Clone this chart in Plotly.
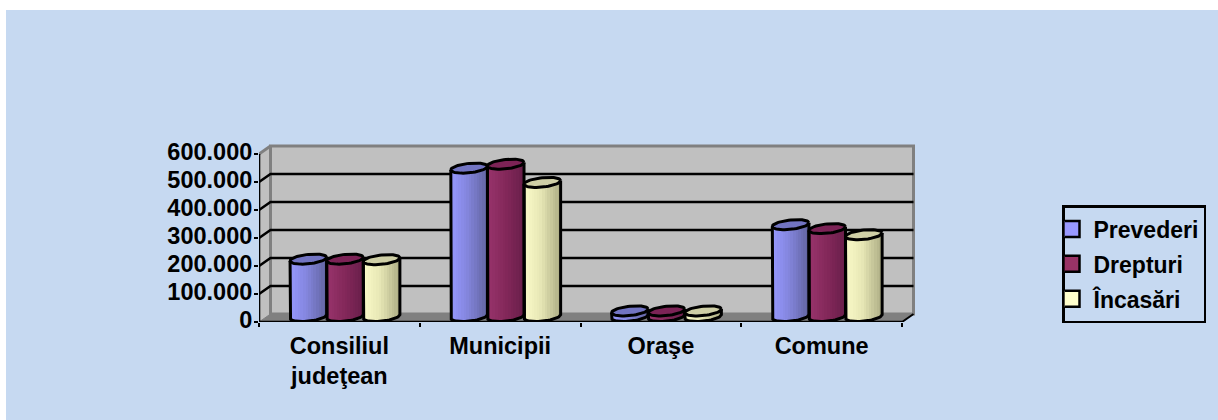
import math
import plotly.graph_objects as go

categories = ["Consiliul<br>judeţean", "Municipii", "Oraşe", "Comune"]
series_names = ["Prevederi", "Drepturi", "Încasări"]
prevederi = [205000, 530000, 20000, 328000]
drepturi = [205000, 544000, 20000, 314000]
incasari = [203000, 479000, 20000, 292000]
y_ticks = [0, 100000, 200000, 300000, 400000, 500000, 600000]
y_labels = ["0", "100.000", "200.000", "300.000", "400.000", "500.000", "600.000"]

W, H = 1218, 420
X0, XF = 259, 902            # front axis start / end (px)
Y0, YW = 322, 146            # zero line, wall top (px)
PAD = 3                      # room round the wall so its border is not clipped (px)
CAT = (XF - X0) / 4
PXX = 1 / CAT                # data units per px
PXY = 100000 / 28
DEPTH_X, DEPTH_Y = 11.5 * PXX, 8 * PXY

CYL_A, CYL_B, CYL_K = 18.3, 4.7, 1.8  # ellipse radii and tilt, px
OFF_X, OFF_Y = 5.6 * PXX, 5.5 * PXY

left_ramps = {
    "Prevederi": [(0, (150, 152, 255)), (0.45, (132, 134, 222)), (1, (98, 100, 160))],
    "Drepturi": [(0, (152, 52, 108)), (0.5, (132, 40, 90)), (1, (104, 30, 74))],
    "Încasări": [(0, (250, 250, 200)), (0.45, (232, 232, 182)), (1, (172, 172, 132))],
}
cap_colors = {"Prevederi": "#7274C2", "Drepturi": "#7C2356", "Încasări": "#CFCFA6"}
swatch_colors = {"Prevederi": "#9999FF", "Drepturi": "#993366", "Încasări": "#FFFFCC"}


def ramp(stops, t):
    for (t0, c0), (t1, c1) in zip(stops, stops[1:]):
        if t <= t1:
            f = (t - t0) / (t1 - t0)
            return "rgb(%d,%d,%d)" % tuple(round(a + (b - a) * f) for a, b in zip(c0, c1))
    return "rgb(%d,%d,%d)" % stops[-1][1]


fig = go.Figure()
all_values = [prevederi, drepturi, incasari]
N = 14

for s, (name, values) in enumerate(zip(series_names, all_values)):
    xs, bases, heights, widths, colors = [], [], [], [], []
    ox, oy, cx_, cy_ = [], [], [], []
    for i, v in enumerate(values):
        cx = i + OFF_X + (s - 1) * 2 * CYL_A * PXX
        for k in range(N):
            u = -1 + (2 * k + 1) / N
            ang = math.sqrt(max(0, 1 - u * u))
            xs.append(cx + u * CYL_A * PXX)
            base = OFF_Y - (CYL_B * ang - CYL_K * u) * PXY
            top = v + OFF_Y + CYL_K * u * PXY
            bases.append(base)
            heights.append(top - base)
            widths.append(2 * CYL_A * PXX / N * 1.2)
            colors.append(ramp(left_ramps[name], (k + 0.5) / N))
        fig_n = 28
        ox.append(cx - CYL_A * PXX)
        oy.append(v + OFF_Y - CYL_K * PXY)
        for k in range(fig_n + 1):
            t = math.pi - math.pi * k / fig_n
            ox.append(cx + CYL_A * PXX * math.cos(t))
            oy.append(OFF_Y - CYL_B * PXY * math.sin(t) + CYL_K * PXY * math.cos(t))
        ox.append(cx + CYL_A * PXX)
        oy.append(v + OFF_Y + CYL_K * PXY)
        ox.append(None)
        oy.append(None)
        for k in range(2 * fig_n + 1):
            t = 2 * math.pi * k / (2 * fig_n)
            cx_.append(cx + CYL_A * PXX * math.cos(t))
            cy_.append(v + OFF_Y + CYL_B * PXY * math.sin(t) + CYL_K * PXY * math.cos(t))
        cx_.append(None)
        cy_.append(None)
    fig.add_trace(go.Bar(x=xs, y=heights, base=bases, width=widths, name=name,
                         marker=dict(color=colors, line=dict(width=0)),
                         showlegend=False, hoverinfo="skip"))
    fig.add_trace(go.Scatter(x=ox, y=oy, mode="lines", line=dict(color="black", width=3),
                             showlegend=False, hoverinfo="skip"))
    fig.add_trace(go.Scatter(x=cx_, y=cy_, mode="lines", fill="toself", fillcolor=cap_colors[name],
                             line=dict(color="black", width=3), showlegend=False, hoverinfo="skip"))

for name in series_names:
    fig.add_trace(go.Scatter(x=[None], y=[None], mode="markers", name=name, legendgroup=name,
                             marker=dict(symbol="square", size=16, color=swatch_colors[name],
                                         line=dict(color="black", width=2.5))))

xL, xR = -0.5, 3.5
shapes = [
    dict(type="path", path=f"M{xL},0 L{xL+DEPTH_X},{DEPTH_Y} L{xL+DEPTH_X},{600000+DEPTH_Y} L{xL},600000 Z",
         fillcolor="#C0C0C0", line=dict(width=0)),
    dict(type="rect", x0=xL + DEPTH_X, x1=xR + DEPTH_X, y0=DEPTH_Y, y1=600000 + DEPTH_Y,
         fillcolor="#C0C0C0", line=dict(color="#808080", width=3)),
    dict(type="path", path=f"M{xL},600000 L{xL+DEPTH_X},{600000+DEPTH_Y}",
         line=dict(color="#808080", width=3)),
    dict(type="path", path=f"M{xL},0 L{xL+DEPTH_X},{DEPTH_Y} L{xR+DEPTH_X},{DEPTH_Y} L{xR},0 Z",
         fillcolor="#808080", line=dict(color="#808080", width=1)),
]
for v in y_ticks[1:-1]:
    shapes.append(dict(type="path", path=f"M{xL},{v} L{xL+DEPTH_X},{v+DEPTH_Y} L{xR+DEPTH_X},{v+DEPTH_Y}",
                       line=dict(color="black", width=2.6)))
shapes.append(dict(type="line", x0=xL, x1=xL, y0=0, y1=600000, line=dict(color="black", width=2.6)))
shapes.append(dict(type="line", x0=xL, x1=xR, y0=0, y1=0, line=dict(color="black", width=2.6)))
shapes.append(dict(type="line", x0=xR, x1=xR + DEPTH_X, y0=0, y1=DEPTH_Y, line=dict(color="black", width=2)))
for s_ in shapes:
    s_.update(xref="x", yref="y", layer="below")
page = dict(type="rect", xref="paper", yref="paper", x0=6 / W, x1=1, y0=0, y1=1 - 10 / H,
            fillcolor="#C6D9F1", line=dict(width=0), layer="below")

font = dict(family="Liberation Sans", size=23, color="black", weight="bold")
axis_font = dict(font, size=23.5)
wall_right = XF + 11.5 + PAD
wall_top = YW - PAD
fig.update_layout(
    width=W, height=H, autosize=False,
    margin=dict(l=0, r=0, t=0, b=0, autoexpand=False),
    paper_bgcolor="white", plot_bgcolor="rgba(0,0,0,0)",
    barmode="overlay", bargap=0,
    shapes=[page] + shapes,
    font=font,
    showlegend=True,
    legend=dict(x=1062 / W, y=1 - 205 / H, xanchor="left", yanchor="top",
                bgcolor="rgba(0,0,0,0)", bordercolor="black", borderwidth=2.5,
                font=font, itemwidth=34, indentation=-15, tracegroupgap=2),
    xaxis=dict(domain=[X0 / W, wall_right / W], range=[xL, xL + (wall_right - X0) * PXX],
               tickmode="array", tickvals=[0, 1, 2, 3], ticktext=categories,
               ticks="", showgrid=False, zeroline=False, showline=False, tickfont=axis_font,
               ticklabelstandoff=7,
               minor=dict(tickmode="array", tickvals=[-0.5, 0.5, 1.5, 2.5, 3.5], ticks="outside",
                          ticklen=4, tickwidth=2, tickcolor="black", showgrid=False)),
    yaxis=dict(domain=[1 - Y0 / H, 1 - wall_top / H], range=[0, (Y0 - wall_top) * PXY],
               tickmode="array", tickvals=y_ticks, ticktext=y_labels,
               ticks="outside", ticklen=4, tickwidth=2, tickcolor="black",
               showgrid=False, zeroline=False, showline=False, tickfont=axis_font,
               ticklabelstandoff=-3, ticklabelshift=-2),
)

fig.write_html("out.html", config={"displayModeBar": False},
               post_script="document.body.style.margin='0';document.documentElement.style.overflow='hidden';")
